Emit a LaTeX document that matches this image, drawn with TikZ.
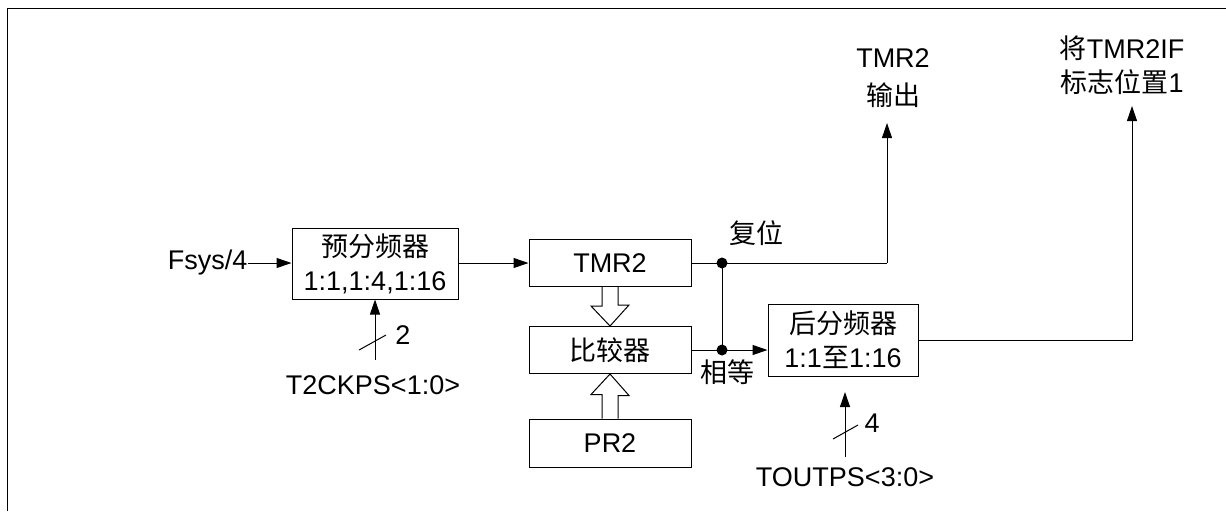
\documentclass[tikz,border=0pt]{standalone}
\usepackage{fontspec}
\setmainfont{Liberation Sans}
\newfontfamily\cjk{Noto Sans CJK SC}
\usetikzlibrary{arrows.meta, positioning}

\tikzset{
    blk/.style={draw, inner sep=0pt, align=center},
    lbl/.style={inner sep=0pt, align=center},
    sig/.style={-{Triangle[length=7.5pt,width=5pt]}},
    jdot/.style={circle, fill, inner sep=0pt, minimum size=5.5pt},
}

\begin{document}
\begin{tikzpicture}[x=0.5pt, y=-0.5pt, line width=0.5pt,
    font=\fontsize{13.5}{17}\selectfont]
    \useasboundingbox (0,0) rectangle (1226,511);
    \draw (7,511) -- (7,8) -- (1226,8);

    % blocks
    \node[blk, minimum width=83pt, minimum height=35.5pt] (pre) at (375,263.5) {{\cjk 预分频器}\\1:1,1:4,1:16};
    \node[blk, minimum width=81pt, minimum height=23.5pt] (tmr) at (610,263) {TMR2};
    \node[blk, minimum width=81pt, minimum height=23.5pt] (cmp) at (610,350) {\cjk 比较器};
    \node[blk, minimum width=81pt, minimum height=24pt] (pr) at (610,443) {PR2};
    \node[blk, minimum width=75pt, minimum height=36pt] (post) at (843,340) {{\cjk 后分频器}\\1:1{\cjk 至}1:16};

    % labels
    \node[lbl, anchor=east] (fsys) at (248,263) {Fsys/4};
    \node[lbl] (t2ck) at (373,385) {T2CKPS<1:0>};
    \node[lbl] (tout) at (845,477) {TOUTPS<3:0>};
    \node[lbl] (two) at (403,335) {2};
    \node[lbl] (four) at (872,423) {4};
    \node[lbl] (rst) at (756,233) {\cjk 复位};
    \node[lbl] (eq) at (727,372) {\cjk 相等};
    \node[lbl] (tout2) at (893,78) {TMR2\\[2pt]{\cjk 输出}};
    \node[lbl] (flag) at (1122,65) {{\cjk 将}TMR2IF\\{\cjk 标志位置}1};

    % junctions
    \node[jdot] (jr) at (722,263) {};
    \node[jdot] (je) at (722,350) {};
    \coordinate (outr) at (887,123);
    \coordinate (flagr) at (1132,106);
    \coordinate (t2in) at (375,360);
    \coordinate (toin) at (845,457);
    \coordinate (toup) at (845,392);

    % signals
    \draw[sig] (fsys.east) -- (pre.west |- fsys.east);
    \draw[sig] (pre.east |- tmr.west) -- (tmr.west);
    \draw (tmr.east) -- (jr.center) -- (jr.center -| outr) coordinate (cr);
    \draw[sig] (cr) -- (outr);
    \draw (jr.center) -- (je.center);
    \draw[sig] (cmp.east) -- (post.west |- cmp.east);
    \draw[sig] (post.east) -| (flagr);
    \draw[sig] (t2in) -- (pre.south);
    \draw[sig] (toin) -- (toup);

    % bus marks
    \draw (359,350) -- (386,335);
    \draw (833,439) -- (858,425);

    % hollow arrows
    \draw ([xshift=-4pt]tmr.south) -- ++(0,19) -- ++(-11,0) -- (cmp.north)
        -- ++(19,-21) -- ++(-11,0) -- ([xshift=4pt]tmr.south);
    \draw ([xshift=-4pt]pr.north) -- ++(0,-24) -- ++(-11,0) -- (cmp.south)
        -- ++(19,21.5) -- ++(-11,0) -- ([xshift=4pt]pr.north);
\end{tikzpicture}
\end{document}
